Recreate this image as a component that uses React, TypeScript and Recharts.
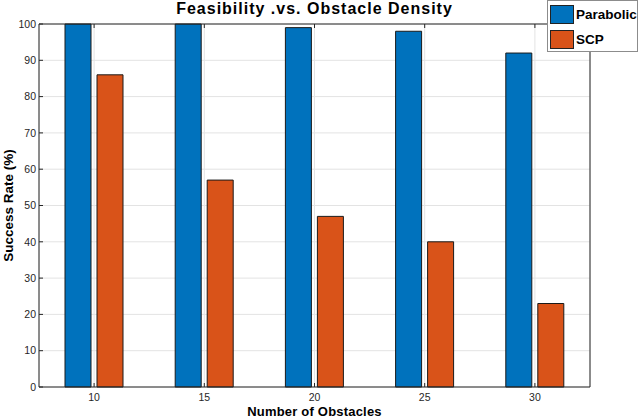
import React from 'react';
import { BarChart, Bar, XAxis, YAxis, CartesianGrid, Legend, Label } from 'recharts';

// categories and values
const obstacleCounts = ['10', '15', '20', '25', '30'];
const parabolicRate = [100, 100, 99, 98, 92];
const scpRate = [86, 57, 47, 40, 23];
const rateTicks = [0, 10, 20, 30, 40, 50, 60, 70, 80, 90, 100];

const seriesInfo = [
  { key: 'parabolic', name: 'Parabolic', color: '#0072BD' },
  { key: 'scp', name: 'SCP', color: '#D95319' },
];

const chartData = obstacleCounts.map((count, i) => ({
  obstacles: count,
  parabolic: parabolicRate[i],
  scp: scpRate[i],
}));

const FONT = '"Liberation Sans", Arial, Helvetica, sans-serif';
const AXIS = '#262626';

// matlab-style legend box
const LegendBox = () => (
  <div
    style={{
      width: 89,
      height: 50,
      background: '#fff',
      border: '1px solid #8c8c8c',
      fontFamily: FONT,
      fontWeight: 'bold',
      fontSize: 13.5,
      color: '#000',
      boxSizing: 'content-box',
    }}
  >
    {seriesInfo.map((s, i) => (
      <div key={s.key} style={{ display: 'flex', alignItems: 'center', height: 25, marginTop: i === 0 ? 1 : 0 }}>
        <div
          style={{
            width: 22,
            height: 17,
            marginLeft: 2,
            marginRight: 2,
            background: s.color,
            border: '1px solid #222',
          }}
        />
        <span>{s.name}</span>
      </div>
    ))}
  </div>
);

const App = () => {
  return (
    <div style={{ position: 'absolute', left: 0, top: 0, width: 640, height: 419, background: '#fff', fontFamily: FONT }}>
      <div
        style={{
          position: 'absolute',
          left: 39,
          width: 551,
          top: 0,
          textAlign: 'center',
          fontWeight: 'bold',
          fontSize: 16,
          letterSpacing: 1,
          color: '#000',
        }}
      >
        Feasibility .vs. Obstacle Density
      </div>
      <BarChart
        width={640}
        height={419}
        data={chartData}
        margin={{ top: 23, right: 49, left: 0, bottom: 0 }}
        barCategoryGap={26}
        barGap={6}
      >
        <CartesianGrid stroke="#e3e3e3" strokeWidth={1} />
        <XAxis
          dataKey="obstacles"
          height={32}
          tickSize={-4}
          tickMargin={11}
          stroke={AXIS}
          tick={{ fill: AXIS, fontSize: 10.5, fontFamily: FONT }}
        >
          <Label
            value="Number of Obstacles"
            position="insideBottom"
            offset={3}
            style={{ fontWeight: 'bold', fontSize: 13, letterSpacing: 0.2, fill: '#000', fontFamily: FONT }}
          />
        </XAxis>
        <XAxis
          xAxisId="top"
          dataKey="obstacles"
          orientation="top"
          height={1}
          tickSize={-4}
          tickFormatter={() => ''}
          stroke={AXIS}
        />
        <YAxis
          width={39}
          domain={[0, 100]}
          ticks={rateTicks}
          interval={0}
          tickSize={-4}
          tickMargin={7}
          stroke={AXIS}
          tick={{ fill: AXIS, fontSize: 10.5, fontFamily: FONT }}
        >
          <Label
            value="Success Rate (%)"
            angle={-90}
            position="insideLeft"
            offset={8}
            style={{ textAnchor: 'middle', fontWeight: 'bold', fontSize: 13.5, fill: '#000', fontFamily: FONT }}
          />
        </YAxis>
        <YAxis
          yAxisId="right"
          orientation="right"
          width={1}
          domain={[0, 100]}
          ticks={rateTicks}
          interval={0}
          tickSize={-4}
          tickFormatter={() => ''}
          stroke={AXIS}
        />
        <Legend
          layout="vertical"
          align="center"
          verticalAlign="middle"
          content={() => <LegendBox />}
          wrapperStyle={{ position: 'absolute', left: 547, top: 0, width: 91 }}
        />
        {seriesInfo.map((s) => (
          <Bar
            key={s.key}
            dataKey={s.key}
            name={s.name}
            fill={s.color}
            stroke="#1a1a1a"
            strokeWidth={1}
            isAnimationActive={false}
          />
        ))}
      </BarChart>
    </div>
  );
};

export default App;
